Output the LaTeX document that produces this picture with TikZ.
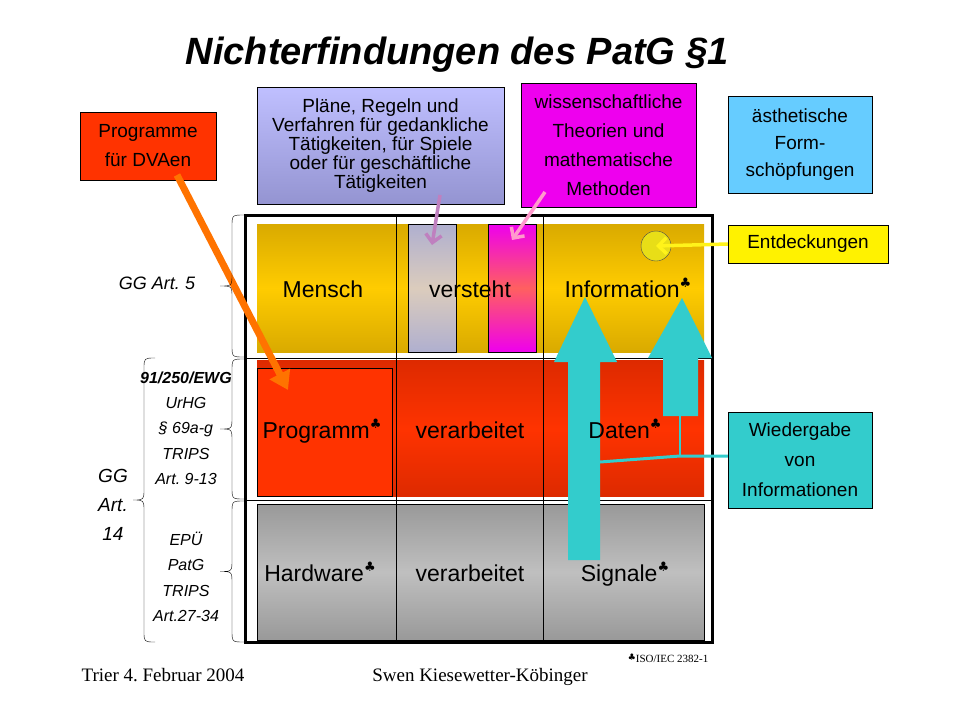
\documentclass[tikz,border=0pt]{standalone}
\usepackage{fontspec}
\setmainfont{Liberation Sans}
\newfontfamily\djv{DejaVu Sans}
\newfontfamily\tms{Liberation Serif}
\usetikzlibrary{arrows.meta}
\definecolor{gold}{HTML}{FFCC00}
\definecolor{golddk}{HTML}{D9AA00}
\definecolor{rd}{HTML}{FF3300}
\definecolor{rddk}{HTML}{DD2A00}
\definecolor{tealc}{HTML}{33CCCC}
\definecolor{skyc}{HTML}{66CCFF}
\definecolor{magc}{HTML}{EE00EE}
\newcommand{\clb}{\raisebox{0.4em}{\djv\fontsize{13}{13}\selectfont ♣}}
\newcommand{\bracel}[4]{% x0, y0, y1, amplitude
  \draw[thin] (#1,#2) .. controls ({#1-#4/2},#2) .. ({#1-#4/2},{#2+#4/2})
    -- ({#1-#4/2},{(#2+#3)/2-#4/2}) .. controls ({#1-#4/2},{(#2+#3)/2}) .. ({#1-#4},{(#2+#3)/2})
    .. controls ({#1-#4/2},{(#2+#3)/2}) .. ({#1-#4/2},{(#2+#3)/2+#4/2})
    -- ({#1-#4/2},{#3-#4/2}) .. controls ({#1-#4/2},#3) .. (#1,#3);}
\frenchspacing
\begin{document}
\begin{tikzpicture}[x=1pt,y=-1pt,
  lbl/.style={anchor=base,font=\fontsize{23}{26}\selectfont},
  side/.style={font=\fontsize{16}{25.3}\itshape\selectfont,align=center},
  boxt/.style={draw=black,align=center,inner sep=0pt,font=\fontsize{19}{22}\selectfont},
  cy/.style={fill=tealc,draw=none}]
\useasboundingbox (0,0) rectangle (960,720);
\fill[white] (0,0) rectangle (960,720);
\node (title) at (457,55) {\fontsize{38}{42}\bfseries\itshape\selectfont Nichterfindungen des PatG §1};
% bands
\shade[top color=golddk, bottom color=golddk, middle color=gold] (257,224) rectangle (704,352);
\shade[top color=rddk, bottom color=rddk, middle color=rd] (257,360) rectangle (704,496);
\shade[top color=gray!80, bottom color=gray!80, middle color=gray!50,draw=black] (257,504) rectangle (704,640);
\draw[fill=rd] (257,368) rectangle (392,496);
\shade[draw=black,top color=blue!25!gray!50,bottom color=blue!25!gray!50,middle color=orange!30!gray!40] (408,224) rectangle (456,352);
\shade[draw=black,top color=magc,bottom color=magc,middle color=red!50!pink] (488,224) rectangle (536,352);
\node[circle,draw=black!70,fill=yellow!90!black,minimum size=30pt,inner sep=0] (circ) at (656,246) {};
% grid
\draw[thick] (396,215) -- (396,642) (543,215) -- (543,642) (245,358) -- (712,358) (245,500) -- (712,500);
\draw[line width=3pt] (245,215) rectangle (712,642);
% cyan arrows
\fill[cy] (568,560) -- (568,362) -- (554,362) -- (585,297) -- (617,362) -- (600,362) -- (600,560) -- cycle;
\fill[cy] (663,416) -- (663,358) -- (648,358) -- (682,298) -- (712,358) -- (698,358) -- (698,416) -- cycle;
% labels
\node[lbl] (m) at (323,297) {Mensch};
\node[lbl] (v) at (470,297) {versteht};
\node[lbl] (i) at (628,297) {Information\clb};
\node[lbl] (p) at (322,438) {Programm\clb};
\node[lbl] (v2) at (470,438) {verarbeitet};
\node[lbl] (d) at (625,438) {Daten\clb};
\node[lbl] (h) at (320,581) {Hardware\clb};
\node[lbl] (v3) at (470,581) {verarbeitet};
\node[lbl] (s) at (625,581) {Signale\clb};
% boxes
\node[boxt,fill=rd,minimum width=136pt,minimum height=68pt,font=\fontsize{19}{29}\selectfont] (prog) at (148,146) {Programme\\für DVAen};
\node[draw=black,align=center,minimum width=247pt,minimum height=117pt,inner sep=0,
  top color=blue!25!white,bottom color=blue!40!gray!60,font=\fontsize{19}{19}\selectfont] (plan) at (380.5,146) {Pläne, Regeln und\\Verfahren für gedankliche\\Tätigkeiten, für Spiele\\oder für geschäftliche\\Tätigkeiten};
\node[boxt,fill=magc,minimum width=175pt,minimum height=124pt,font=\fontsize{19}{29}\selectfont] (wiss) at (608.5,145) {wissenschaftliche\\Theorien und\\mathematische\\Methoden};
\node[boxt,fill=skyc,minimum width=144pt,minimum height=97pt,font=\fontsize{19}{27}\selectfont] (aest) at (800,144.5) {ästhetische\\Form-\\schöpfungen};
\node[boxt,fill=yellow,minimum width=160pt,minimum height=38pt] (ent) at (808,244) {Entdeckungen};
\node[boxt,fill=tealc,minimum width=144pt,minimum height=96pt,font=\fontsize{19}{30}\selectfont] (wied) at (800,460) {Wiedergabe\\von\\Informationen};
% pointer arrows
\coordinate (pa) at (288,390);
\draw[orange!90!red,line width=7pt,-{Triangle[length=18pt,width=22pt]}] (177,175) -- (pa);
\coordinate (la) at (432,245);
\draw[violet!50!white,line width=3.5pt,-{Straight Barb[length=8pt]}] (440,195) -- (la);
\coordinate (ma) at (512,240);
\draw[pink!80!magenta,line width=3.5pt,-{Straight Barb[length=8pt]}] (545,192) -- (ma);
\draw[yellow!90!white,line width=3.5pt,-{Straight Barb[length=8pt]}] (ent.west) -- (circ.center);
\coordinate (j) at (680,456);
\coordinate (sj) at (600,462);
\coordinate (up) at (680,392);
\draw[draw=tealc,line width=3pt] (wied.west |- j) -- (j) -- (sj);
\draw[draw=tealc,line width=2pt,-{Triangle[length=8pt,width=8pt]}] (j) -- (up);
% braces
\bracel{244}{215}{357}{24}
\bracel{244}{359}{499}{24}
\bracel{244}{501}{642}{24}
\bracel{155}{358}{642}{22}
\node[font=\fontsize{18}{20}\itshape\selectfont] (gg5) at (157,283) {GG Art. 5};
\node[align=center,font=\fontsize{19}{29}\itshape\selectfont] (gg14) at (113,505) {GG\\Art.\\14};
\node[side] (t1) at (186,428) {\textbf{91/250/EWG}\\UrHG\\§ 69a-g\\TRIPS\\Art. 9-13};
\node[side] (t2) at (186,577) {EPÜ\\PatG\\TRIPS\\Art.27-34};
% footer
\node[anchor=base,font=\tms\fontsize{19}{20}\selectfont] (f1) at (163,681) {Trier 4. Februar 2004};
\node[anchor=base,font=\tms\fontsize{19}{20}\selectfont] (f2) at (480,681) {Swen Kiesewetter-Köbinger};
\node[font=\tms\fontsize{11}{12}\selectfont] (f3) at (668,658) {\raisebox{0.2em}{\djv\fontsize{9}{9}\selectfont ♣}ISO/IEC 2382-1};
\end{tikzpicture}
\end{document}
